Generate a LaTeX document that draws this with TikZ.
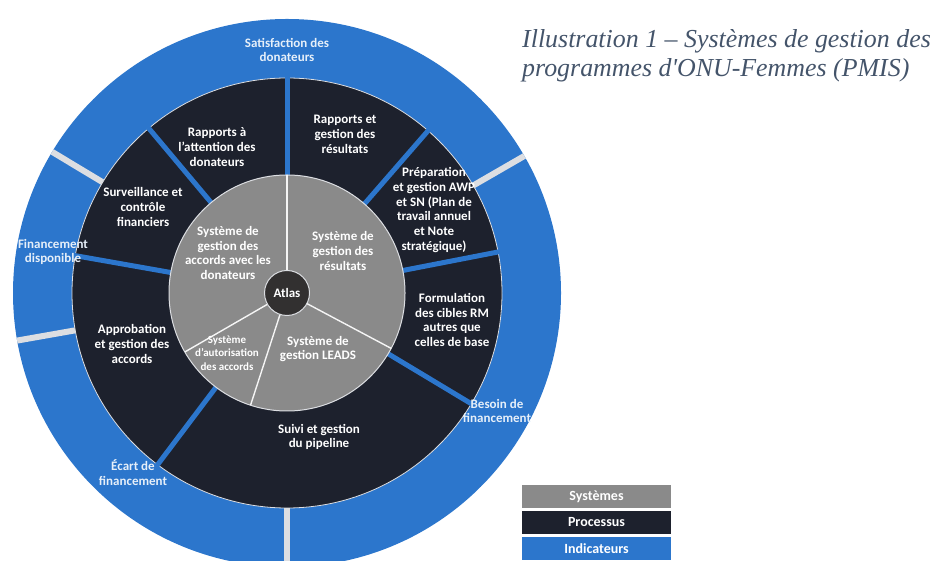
\documentclass[tikz,border=0pt]{standalone}
\usepackage{fontspec}
\setmainfont{Carlito}
\newfontfamily\capfont{Liberation Serif}
\usepackage{tikz}
\usetikzlibrary{calc,positioning}
\tikzset{>=stealth}
\definecolor{indblue}{RGB}{44,118,204}
\definecolor{procdark}{RGB}{29,33,45}
\definecolor{sysgray}{RGB}{138,138,138}
\definecolor{gapgray}{RGB}{220,222,226}
\definecolor{atlasdark}{RGB}{50,48,48}
\definecolor{captext}{RGB}{68,84,106}
\tikzset{
  txt/.style={text=white, align=center, inner sep=0pt, font=\bfseries\fontsize{13}{14.9}\selectfont},
  smalltxt/.style={txt, font=\bfseries\fontsize{11}{13.5}\selectfont},
  indtxt/.style={txt, text=white!88!indblue},
  legend/.style={minimum width=149pt, minimum height=22.5pt, inner sep=0pt, text=white, font=\bfseries\fontsize{14}{15}\selectfont},
  captionline/.style={anchor=base west, inner sep=0pt, text=captext, font=\capfont\itshape\fontsize{25.9}{26}\selectfont}
}

\begin{document}
\begin{tikzpicture}[x=1pt,y=1pt]
\useasboundingbox (0,0) rectangle (933,561);
\coordinate (c) at (287,268);

\fill[indblue] (c) circle (274);
\begin{scope}
\clip (c) circle (274);
\foreach \a in {30,149,190,270}
  \draw[gapgray, line width=6pt] ($(c)+(\a:210)$) -- ($(c)+(\a:280)$);
\end{scope}

\fill[procdark, draw=gapgray, line width=0.8pt] (c) circle (215);
\foreach \a in {11,49,90,130,170,233,329}
  \draw[indblue, line width=5pt] ($(c)+(\a:117)$) -- ($(c)+(\a:216)$);

\fill[sysgray, draw=gapgray, line width=1pt] (c) circle (118);
\foreach \a in {90,210,252,332}
  \draw[white!92!gray, line width=1.4pt] (c) -- ($(c)+(\a:118)$);
\node[circle, fill=atlasdark, draw=gapgray, line width=1pt, minimum size=45pt, txt] (atlas) at (c) {Atlas};

\node[indtxt] (i-1) at (287,511) {Satisfaction des\\donateurs};
\node[indtxt] (i-2) at (53,309) {Financement\\disponible};
\node[indtxt] (i-3) at (133,88) {Écart de\\financement};
\node[indtxt] (i-4) at (497,150) {Besoin de\\financement};

\node[txt] (p-1) at (217,414) {Rapports à\\l'attention des\\donateurs};
\node[txt] (p-2) at (345,427) {Rapports et\\gestion des\\résultats};
\node[txt] (p-3) at (434,351) {Préparation\\et gestion AWP\\et SN (Plan de\\travail annuel\\et Note\\stratégique)};
\node[txt] (p-4) at (452,241) {Formulation\\des cibles RM\\autres que\\celles de base};
\node[txt] (p-5) at (319,124) {Suivi et gestion\\du pipeline};
\node[txt] (p-6) at (132,217) {Approbation\\et gestion des\\accords};
\node[txt] (p-7) at (143,354) {Surveillance et\\contrôle\\financiers};

\node[txt] (s-1) at (228,308) {Système de\\gestion des\\accords avec les\\donateurs};
\node[txt] (s-2) at (343,310) {Système de\\gestion des\\résultats};
\node[smalltxt] (s-3) at (227,208) {Système\\d'autorisation\\des accords};
\node[txt] (s-4) at (318,212) {Système de\\gestion LEADS};

\node[legend, fill=sysgray] (leg-1) at (596.5,64.5) {Systèmes};
\node[legend, fill=procdark, below=3pt of leg-1] (leg-2) {Processus};
\node[legend, fill=indblue, below=3pt of leg-2] (leg-3) {Indicateurs};

\node[captionline] (cap-1) at (522,513) {Illustration 1 – Systèmes de gestion des};
\node[captionline] (cap-2) at (522,484) {programmes d'ONU-Femmes (PMIS)};
\end{tikzpicture}
\end{document}
